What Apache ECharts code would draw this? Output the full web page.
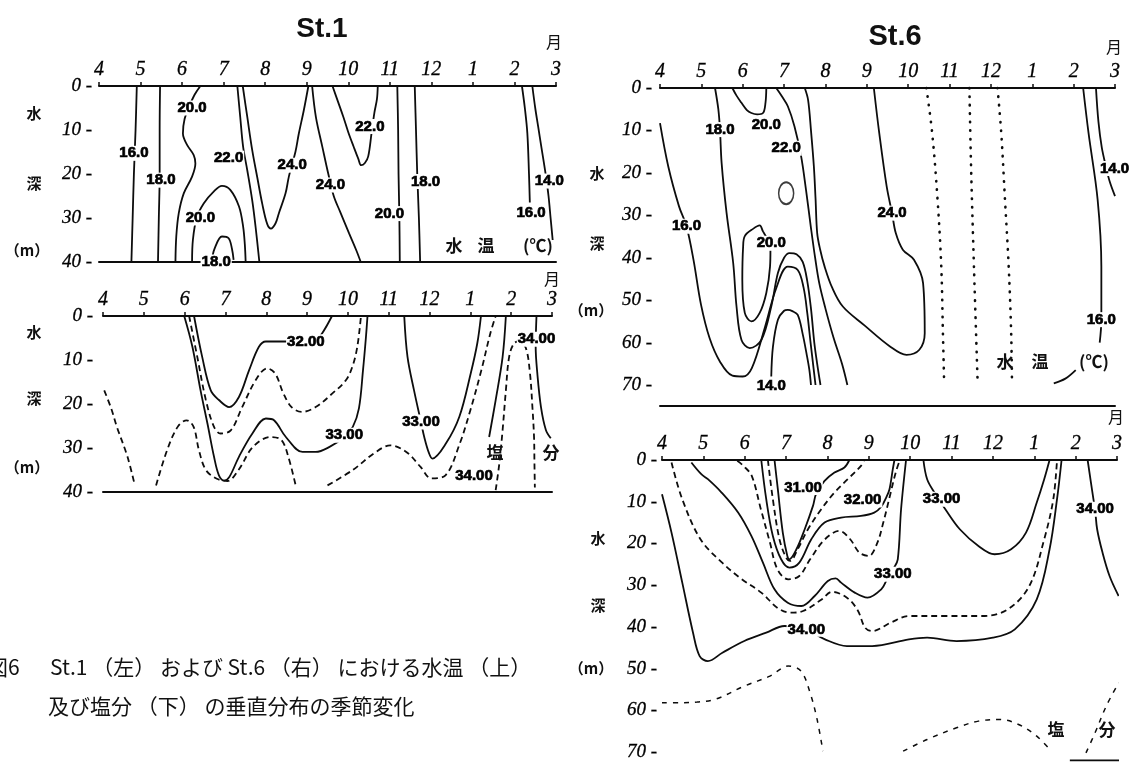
<!DOCTYPE html>
<html><head><meta charset="utf-8">
<script src="https://cdn.jsdelivr.net/npm/echarts@6/dist/echarts.min.js"></script>
<style>html,body{margin:0;padding:0;background:#fff}#c{width:1134px;height:762px}</style>
</head><body><div id="c"></div>
<script>
// ---------- tick labels ----------
const months = ['4','5','6','7','8','9','10','11','12','1','2','3'];
const depthMaxA = 40, depthMaxB = 40, depthMaxC = 70, depthMaxD = 70;

// ---------- St.1 water temperature (x = month index from April, y = depth m) ----------
const a16  = [[0.91,0],[0.88,10],[0.84,20],[0.81,30],[0.78,40]];
const a18  = [[1.47,0],[1.46,10],[1.46,20],[1.44,30],[1.42,40]];
const a20w = [[2.44,0],[2.3,2],[2.18,4.5],[2.06,7.5],[2.02,10.8],[2.12,13.4],[2.28,15.7],[2.32,17.6],[2.24,20.6],[2.04,24.4],[1.92,28.9],[1.86,34.2],[1.84,40]];
const a20d = [[2.24,40],[2.26,35],[2.35,30],[2.52,26.7],[2.76,24],[2.96,22.7],[3.16,23.6],[3.37,27.4],[3.47,32],[3.51,36],[3.53,40]];
const a18d = [[2.72,39.5],[2.78,37],[2.96,34.2],[3.12,34.6],[3.2,37],[3.24,39.5]];
const a22  = [[3.33,0],[3.4,7.1],[3.47,13.9],[3.57,19.2],[3.69,26.1],[3.77,32.1],[3.86,40]];
const a24v = [[3.46,0],[3.57,7.1],[3.69,14.7],[3.81,20.8],[3.93,26.8],[4.05,31.4],[4.14,32.4],[4.25,31.2],[4.33,28.9],[4.49,24.4],[4.57,20.6],[4.73,14.9],[4.81,10.8],[4.93,5.5],[5.04,0]];
const a24r = [[5.13,0],[5.22,7],[5.38,14],[5.52,20],[5.65,25],[5.8,28.5],[6.02,33.5],[6.2,37.5],[6.3,40]];
const a22u = [[5.62,0],[5.75,3.5],[5.88,7],[6.0,10.5],[6.13,13.8],[6.24,16.5],[6.31,18],[6.4,17.5],[6.48,16],[6.56,10.7],[6.63,6],[6.69,3],[6.71,0]];
const a20r = [[7.18,0],[7.2,10],[7.21,20],[7.23,30],[7.24,40]];
const a18r = [[7.6,0],[7.63,10],[7.66,20],[7.7,30],[7.73,40]];
const a16r = [[10.18,0],[10.25,5],[10.31,10.7],[10.35,20],[10.37,26.5]];
const a14r = [[10.43,0],[10.5,5],[10.57,9.2],[10.65,14],[10.75,20],[10.82,25],[10.87,30],[10.92,35]];
const labelsA = [['16.0',0.84,15.3],['18.0',1.49,21.4],['20.0',2.24,5],['20.0',2.44,30],['18.0',2.82,40],['22.0',3.12,16.4],['24.0',4.65,18],['24.0',5.57,22.5],['22.0',6.52,9.2],['20.0',6.99,29],['18.0',7.86,21.7],['16.0',10.4,28.8],['14.0',10.84,21.6]];

// ---------- St.1 salinity ----------
const b33  = [[1.99,0],[2.19,7],[2.39,16.9],[2.56,24.5],[2.72,32],[2.84,36.2],[2.97,37.4],[3.1,36.5],[3.33,32],[3.66,26.7],[3.99,23.3],[4.19,23.7],[4.48,27.5],[4.89,30.9],[5.21,30.9],[5.54,29.8],[5.91,27.5],[6.12,25.2],[6.27,21],[6.37,12.3],[6.44,5],[6.48,0]];
const b32  = [[2.23,0],[2.43,9.3],[2.64,16.9],[2.84,19.1],[3.09,20.7],[3.33,18.4],[3.58,12.3],[3.82,7],[3.99,5.8],[4.31,5.8],[4.7,5.8],[4.97,5.85],[5.2,5.5],[5.37,3.9],[5.61,0]];
const b32d = [[2.11,0],[2.31,9.3],[2.52,19.1],[2.72,25.2],[2.88,26.7],[3.13,26],[3.41,20.7],[3.74,14.6],[4.02,11.9],[4.22,13.1],[4.42,17.6],[4.62,20.7],[4.87,21.8],[5.21,20.7],[5.62,17.6],[5.95,14.6],[6.11,11.5],[6.23,7],[6.32,0]];
const b34a = [[0.03,16.9],[0.2,21],[0.34,25.2],[0.6,32],[0.78,38.5]];
const b34b = [[1.3,38.5],[1.57,30.5],[1.83,25.2],[2.05,23.7],[2.22,25.2],[2.35,30.5],[2.52,35],[2.79,37],[3.05,37.5],[3.32,35],[3.67,29.8],[4.1,27.5],[4.37,28.2],[4.54,32],[4.72,38.5]];
const b34c = [[5.5,38.5],[6.12,35],[6.64,31.2],[7.04,29.4],[7.43,30.9],[7.78,34.3],[8.04,36.9],[8.39,36.2],[8.74,29],[9.0,21.4],[9.27,12.3],[9.49,3.9],[9.62,0]];
const b33u = [[7.38,0],[7.46,9.3],[7.62,16.9],[7.79,24.1],[7.87,27.5],[7.98,31],[8.07,32.4],[8.4,29],[8.73,22.9],[9.01,13],[9.17,6.2],[9.26,0]];
const b33r = [[9.87,0],[9.79,9.3],[9.62,19.1],[9.46,27.5]];
const b34h = [[9.62,39.6],[9.71,33.5],[9.79,25.9],[9.87,16.9],[9.95,9.3],[10.07,6.2],[10.2,5.8],[10.36,7.3],[10.46,13],[10.52,20.7],[10.56,27.5],[10.57,33.5],[10.58,39]];
const b34r = [[10.62,0],[10.6,7],[10.64,13],[10.73,20.7],[10.85,25.9],[10.97,27.8]];
const labelsB = [['32.00',4.97,5.85],['33.00',5.91,27.1],['33.00',7.79,24.1],['34.00',9.09,36.4],['34.00',10.62,5.3]];

// ---------- St.6 water temperature ----------
const c16  = [[0,8.3],[0.2,18.5],[0.46,27.9],[0.64,32.6],[0.81,40.5],[0.99,51],[1.2,59],[1.45,64.5],[1.75,67.8],[2.0,68],[2.22,66],[2.53,56.6],[2.81,47.2],[3.09,42.1],[3.33,42.9],[3.47,47],[3.56,53],[3.64,60],[3.7,65],[3.76,70]];
const c18  = [[1.33,0],[1.41,5],[1.45,9.8],[1.49,17.7],[1.61,29.5],[1.77,41.3],[1.85,51.5],[1.97,59.4],[2.17,61.3],[2.45,59.4],[2.69,51.5],[2.85,43.6],[3.0,40],[3.13,38.9],[3.3,39.2],[3.45,41],[3.56,45.5],[3.65,52],[3.73,60],[3.8,65],[3.88,70]];
const c14  = [[2.69,68],[2.73,61],[2.85,54.6],[3.0,52.5],[3.09,52.3],[3.2,52.6],[3.33,53.5],[3.45,58],[3.55,63],[3.61,66.4],[3.65,70]];
const c20l = [[2.67,38.1],[2.66,42.1],[2.57,48.3],[2.41,53],[2.21,55],[2.05,53],[1.99,45.2],[2.01,37.3],[2.05,34.9],[2.25,33.2],[2.41,32.4],[2.49,33.8],[2.62,36]];
const c20t = [[1.75,0],[1.85,1.8],[1.97,3.5],[2.1,5.2],[2.21,5.9],[2.35,6.2],[2.49,5.9],[2.55,3.5],[2.57,0]];
const c22  = [[2.81,0],[2.95,2],[3.09,4.3],[3.25,9],[3.41,16],[3.53,24],[3.65,33],[3.75,40],[3.85,46],[4.0,52],[4.2,59],[4.4,65],[4.53,70]];
const c24  = [[3.5,0],[3.58,2.8],[3.65,10],[3.72,18.5],[3.76,26],[3.8,34.2],[3.87,38],[3.98,42.1],[4.16,47],[4.42,51.5],[4.95,56],[5.56,60.9],[5.96,62.9],[6.27,61.7],[6.4,57.8],[6.36,46],[6.14,40.5],[5.87,38.1],[5.7,34.2],[5.61,29.5],[5.48,23.2],[5.3,10.6],[5.17,0]];
const cDot1 = [[6.44,0],[6.58,10.6],[6.71,26.3],[6.8,42.1],[6.84,57.8],[6.87,69.6]];
const cDot2 = [[7.48,0],[7.52,18.5],[7.59,42.1],[7.68,69.6]];
const cDot3 = [[8.16,0],[8.25,10.6],[8.34,26.3],[8.43,42.1],[8.49,57.8],[8.51,69.6]];
const c16r = [[10.23,0],[10.36,10.6],[10.58,26.3],[10.67,42.1],[10.67,49.9],[10.67,54.6],[10.63,60]];
const c14r = [[10.54,0],[10.6,8],[10.68,14],[10.78,18.5],[10.87,22],[11.0,25.5]];
const cLead = [[9.52,69.6],[9.8,68.5],[10.05,66.5]];
const cRing = [[3.05,24.8]];
const labelsC = [['18.0',1.45,9.8],['20.0',2.57,8.7],['22.0',3.05,14.2],['16.0',0.64,32.6],['20.0',2.69,36.6],['14.0',2.69,70.3],['24.0',5.61,29.5],['16.0',10.67,54.6],['14.0',10.99,19]];

// ---------- St.6 salinity ----------
const d34  = [[0,8.2],[0.23,17.4],[0.49,29.4],[0.75,41.4],[0.91,47],[1.11,48.2],[1.46,46.2],[1.99,43.4],[2.52,41.4],[2.96,39.8],[3.49,40.6],[3.94,43],[4.47,44.6],[5.08,44.6],[5.97,43],[6.41,42.6],[7.12,43.4],[8.0,42.6],[8.53,40.6],[9.06,33.4],[9.37,21.4],[9.55,9.4],[9.66,0]];
const d34d = [[0.23,0.6],[0.49,9.4],[0.93,19],[1.44,24.5],[1.92,28.5],[2.4,31.8],[2.8,35.5],[3.1,36.6],[3.41,36.2],[3.85,33.5],[4.11,31.6],[4.47,33],[4.73,36],[4.91,40.2],[5.08,41],[5.53,39],[5.97,37.4],[6.86,37.4],[7.74,37.4],[8.36,35.8],[8.88,30.2],[9.24,19],[9.46,9.4],[9.55,0]];
const d33  = [[0.71,0.6],[0.95,3.4],[1.11,4.6],[1.44,7.8],[1.84,12.6],[2.16,18.2],[2.44,24.6],[2.72,31],[3.04,34.2],[3.37,35],[3.69,32.6],[4.01,29],[4.2,28.4],[4.33,29.4],[4.66,31.8],[4.97,33],[5.3,31],[5.44,28.6],[5.6,26],[5.7,23.8],[5.78,11.8],[5.9,0]];
const d33d = [[1.82,0.2],[1.98,1.5],[2.17,3.8],[2.39,11.8],[2.61,19.8],[2.79,26.2],[3.05,28.6],[3.32,27.8],[3.58,23.8],[3.94,19],[4.29,17],[4.55,19],[4.77,22.2],[5.0,23],[5.2,20],[5.35,15],[5.5,9],[5.65,3],[5.75,0]];
const d32  = [[2.4,0],[2.52,9.4],[2.68,18.2],[2.88,23.8],[3.08,25.8],[3.32,24.6],[3.61,19],[3.93,15],[4.33,13.8],[4.81,13.4],[5.13,12.6],[5.3,11.2],[5.42,9],[5.5,7],[5.58,2.2],[5.62,0]];
const d32d = [[2.56,0],[2.68,9.4],[2.84,19],[3.0,23.4],[3.1,24.2],[3.28,21.4],[3.53,16.6],[3.85,11.8],[4.17,7.8],[4.49,4.6],[4.81,1.4],[4.89,0]];
const d31  = [[2.72,0],[2.8,7],[2.92,17.4],[3.03,23],[3.08,23.8],[3.25,21.4],[3.45,16.6],[3.65,11],[3.73,8],[3.93,5],[4.17,3],[4.41,1.8],[4.53,0]];
const d33u = [[6.32,0],[6.41,4.6],[6.6,8],[6.85,11.8],[7.2,16.6],[7.65,20.6],[8.04,22.6],[8.44,21.4],[8.8,17.4],[9.06,10.2],[9.24,4.6],[9.37,0]];
const d34r = [[10.29,0],[10.43,9.4],[10.47,11.8],[10.52,16.6],[10.65,22.2],[10.82,27.8],[11.04,32.6]];
const d35a = [[0,58.2],[0.49,58.2],[0.85,58],[1.28,57.4],[1.99,54.2],[2.61,51.8],[3.05,49.4],[3.36,50.6],[3.58,55.8],[3.75,62.2],[3.89,69.8]];
const d35b = [[5.83,69.8],[6.41,67],[7.12,64.2],[7.65,62.6],[8.18,62.2],[8.62,63.4],[9.06,66.2],[9.41,69.8]];
const d35c = [[10.25,70.2],[10.47,65.4],[10.74,59],[11.04,53.4]];
const dEdge = [[9.86,72],[11.1,72]];
const labelsD = [['31.00',3.41,6.6],['32.00',4.85,9.6],['33.00',6.76,9.4],['33.00',5.58,27.4],['34.00',3.49,40.6],['34.00',10.47,11.8]];

// ---------- layout ----------
const grids = [
  {left:99, top:86, width:457, height:176, max:depthMaxA, lblMargin:7, bottom:0},
  {left:103, top:316, width:449, height:176, max:depthMaxB, lblMargin:10, bottom:0},
  {left:660, top:88, width:455, height:297, max:depthMaxC, lblMargin:8, bottom:21},
  {left:662, top:460, width:455, height:292, max:depthMaxD, lblMargin:5, bottom:null}
];
const INK = '#0d0d0d';
const numFont = '"Liberation Serif", "DejaVu Serif", serif';
const xAxes = [], yAxes = [], gridOpts = [];
grids.forEach((g, i) => {
  gridOpts.push({left:g.left, top:g.top, width:g.width, height:g.height, containLabel:false, outerBoundsMode:'none'});
  xAxes.push({type:'value', gridIndex:i, position:'top', min:0, max:11, interval:1,
    axisLine:{show:true, onZero:false, lineStyle:{color:INK, width:2}},
    axisTick:{show:true, inside:false, length:4, lineStyle:{color:INK, width:1.5}},
    axisLabel:{show:true, margin:6, color:'#000', fontSize:20, fontStyle:'italic', fontFamily:numFont,
      textBorderColor:'#000', textBorderWidth:0.3,
      formatter: v => months[Math.round(v)] || ''},
    splitLine:{show:false}});
  xAxes.push({type:'value', gridIndex:i, position:'bottom', min:0, max:11, offset:g.bottom || 0,
    axisLine:{show:g.bottom !== null, onZero:false, lineStyle:{color:INK, width:2}},
    axisTick:{show:false}, axisLabel:{show:false}, splitLine:{show:false}});
  yAxes.push({type:'value', gridIndex:i, inverse:true, min:0, max:g.max, interval:10,
    axisLine:{show:false}, axisTick:{show:false}, splitLine:{show:false},
    axisLabel:{show:true, margin:g.lblMargin, color:'#000', fontSize:19, fontStyle:'italic', fontFamily:numFont,
      textBorderColor:'#000', textBorderWidth:0.3,
      formatter: v => v + ' -'}});
});

const series = [];
function line(gi, data, kind) {
  let ls = {color:INK, width:1.8, type:'solid'};
  if (kind === 'dash') ls = {color:INK, width:1.8, type:[6,4]};
  if (kind === 'dot') ls = {color:INK, width:2.6, type:[0.5,8], cap:'round'};
  if (kind === 'thin') ls = {color:INK, width:1.5, type:[5,6]};
  series.push({type:'line', xAxisIndex:gi*2, yAxisIndex:gi, data:data, smooth:0.35, symbol:'none',
    clip:false, silent:true, animation:false, lineStyle:ls, z:2});
}
function labels(gi, arr) {
  series.push({type:'scatter', xAxisIndex:gi*2, yAxisIndex:gi, symbol:'rect', symbolSize:1, clip:false,
    itemStyle:{color:'#fff', opacity:1}, z:6, silent:true,
    data: arr.map(a => ({name:a[0], value:[a[1], a[2]]})),
    label:{show:true, position:'inside', formatter:'{b}', color:'#000', opacity:1, fontSize:15, fontWeight:'bold',
      fontFamily:'"Liberation Sans", Arial, sans-serif', backgroundColor:'#fff', padding:[0,1],
      textBorderColor:'#000', textBorderWidth:0.7}});
}
// St.1 temp
[a16,a18,a20w,a20d,a18d,a22,a24v,a24r,a22u,a20r,a18r,a16r,a14r].forEach(d => line(0, d));
labels(0, labelsA);
// St.1 salinity
[b33,b32,b33u,b33r,b34r].forEach(d => line(1, d));
[b32d,b34a,b34b,b34c,b34h].forEach(d => line(1, d, 'dash'));
labels(1, labelsB);
// St.6 temp
[c16,c18,c14,c20l,c20t,c22,c24,c16r,c14r,cLead].forEach(d => line(2, d));
[cDot1,cDot2,cDot3].forEach(d => line(2, d, 'dot'));
series.push({type:'scatter', xAxisIndex:4, yAxisIndex:2, data:cRing, symbol:'circle', symbolSize:[15,22],
  itemStyle:{color:'rgba(0,0,0,0)', borderColor:INK, borderWidth:1.8}, z:3, silent:true});
labels(2, labelsC);
// St.6 salinity
[d34,d33,d32,d31,d33u,d34r,dEdge].forEach(d => line(3, d));
[d34d,d33d,d32d].forEach(d => line(3, d, 'dash'));
[d35a,d35b,d35c].forEach(d => line(3, d, 'thin'));
labels(3, labelsD);

// ---------- text decorations ----------
const cjk = '"Noto Sans CJK JP", sans-serif';
const texts = [
  ['St.1', 322, 29, 'bold 28px "Liberation Sans", Arial, sans-serif', 'center'],
  ['St.6', 895, 37, 'bold 29px "Liberation Sans", Arial, sans-serif', 'center'],
  ['月', 554, 42, '16px ' + cjk, 'center'], ['月', 552, 279, '16px ' + cjk, 'center'],
  ['月', 1114, 47, '16px ' + cjk, 'center'], ['月', 1116, 417, '16px ' + cjk, 'center'],
  ['水', 34, 113, 'bold 15px ' + cjk, 'center'], ['深', 34, 183, 'bold 15px ' + cjk, 'center'], ['（m）', 27, 250, 'bold 15px ' + cjk, 'center'],
  ['水', 34, 332, 'bold 15px ' + cjk, 'center'], ['深', 34, 398, 'bold 15px ' + cjk, 'center'], ['（m）', 27, 467, 'bold 15px ' + cjk, 'center'],
  ['水', 597, 173, 'bold 15px ' + cjk, 'center'], ['深', 597, 243, 'bold 15px ' + cjk, 'center'], ['（m）', 591, 310, 'bold 15px ' + cjk, 'center'],
  ['水', 598, 538, 'bold 15px ' + cjk, 'center'], ['深', 598, 605, 'bold 15px ' + cjk, 'center'], ['（m）', 591, 668, 'bold 15px ' + cjk, 'center'],
  ['水', 454, 246, 'bold 17px ' + cjk, 'center'], ['温', 486, 246, 'bold 17px ' + cjk, 'center'], ['(℃)', 538, 246, 'bold 17px ' + cjk, 'center'],
  ['塩', 495, 453, 'bold 17px ' + cjk, 'center'], ['分', 551, 453, 'bold 17px ' + cjk, 'center'],
  ['水', 1005, 362, 'bold 17px ' + cjk, 'center'], ['温', 1040, 362, 'bold 17px ' + cjk, 'center'], ['(℃)', 1094, 362, 'bold 17px ' + cjk, 'center'],
  ['塩', 1056, 730, 'bold 17px ' + cjk, 'center'], ['分', 1107, 730, 'bold 17px ' + cjk, 'center'],
  ['図6', -13, 667, '21px ' + cjk, 'left'],
  ['St.1 （左） および St.6 （右） における水温 （上）', 50, 667, '21px ' + cjk, 'left'],
  ['及び塩分 （下） の垂直分布の季節変化', 48, 706, '21px ' + cjk, 'left']
];
const graphic = texts.map(t => ({type:'text', x:t[1], y:t[2], silent:true, z:10,
  style:{text:t[0], font:t[3], fill:'#111', align:t[4], verticalAlign:'middle', textAlign:t[4], textVerticalAlign:'middle'}}));

const chart = echarts.init(document.getElementById('c'), null, {renderer:'canvas'});
chart.setOption({
  animation:false, backgroundColor:'#fff',
  textStyle:{fontFamily:'"Liberation Sans", Arial, sans-serif'},
  grid:gridOpts, xAxis:xAxes, yAxis:yAxes, series:series, graphic:graphic
});
</script></body></html>
